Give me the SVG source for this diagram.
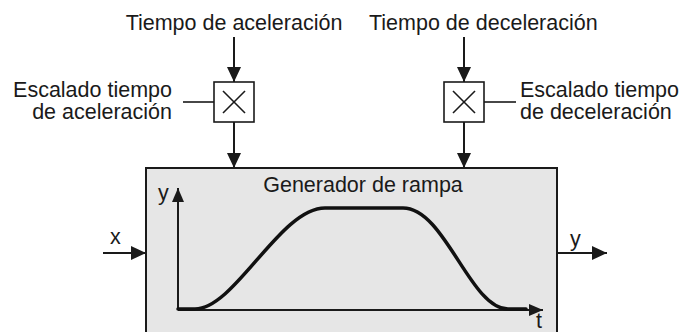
<svg xmlns="http://www.w3.org/2000/svg" width="692" height="332" viewBox="0 0 692 332">
  <style>
    text { font-family: "Liberation Sans", Arial, sans-serif; font-size: 21.5px; fill: #1a1a1a; }
    .ln { stroke: #1a1a1a; stroke-width: 2; fill: none; }
    .thin { stroke: #1a1a1a; stroke-width: 1.6; fill: none; }
    .box { stroke: #1a1a1a; stroke-width: 1.6; fill: #ffffff; }
    .curve { stroke: #111; stroke-width: 3.5; fill: none; stroke-linecap: round; stroke-linejoin: round; }
  </style>
  <defs>
    <marker id="ah" markerUnits="userSpaceOnUse" markerWidth="15" markerHeight="14" refX="15" refY="7" orient="auto">
      <path d="M0,0 L15,7 L0,14 z" fill="#1a1a1a"/>
    </marker>
    <marker id="ax" markerUnits="userSpaceOnUse" markerWidth="14" markerHeight="12" refX="14" refY="6" orient="auto">
      <path d="M0,0 L14,6 L0,12 z" fill="#1a1a1a"/>
    </marker>
  </defs>

  <g id="generador">
    <rect x="146" y="168" width="411" height="180" fill="#e6e6e6" stroke="#1a1a1a" stroke-width="2"/>
    <text x="363" y="192" text-anchor="middle">Generador de rampa</text>
    <line class="ln" x1="178" y1="310" x2="178" y2="188" marker-end="url(#ax)"/>
    <line class="ln" x1="178" y1="310" x2="543" y2="310" marker-end="url(#ax)"/>
    <text x="158" y="200">y</text>
    <text x="536" y="328">t</text>
    <path class="curve" d="M178 309 L195 309 C235 309 280 208 325 208 L403 208 C445 208 470 309 508 309 L526 309"/>
  </g>

  <g id="mult-acel">
    <rect class="box" x="214" y="82" width="40" height="40"/>
    <line class="thin" x1="223" y1="91" x2="245" y2="113"/>
    <line class="thin" x1="245" y1="91" x2="223" y2="113"/>
  </g>

  <g id="mult-decel">
    <rect class="box" x="444" y="82" width="40" height="40"/>
    <line class="thin" x1="453" y1="91" x2="475" y2="113"/>
    <line class="thin" x1="475" y1="91" x2="453" y2="113"/>
  </g>

  <g id="labels">
    <text x="234" y="30" text-anchor="middle">Tiempo de aceleración</text>
    <text x="369" y="30">Tiempo de deceleración</text>
    <text x="172" y="97" text-anchor="end">Escalado tiempo</text>
    <text x="172" y="119" text-anchor="end">de aceleración</text>
    <text x="520" y="97">Escalado tiempo</text>
    <text x="520" y="119">de deceleración</text>
    <text x="110" y="244">x</text>
    <text x="570" y="246">y</text>
  </g>

  <g id="connectors">
    <line class="ln" x1="234" y1="37" x2="234" y2="82" marker-end="url(#ah)"/>
    <line class="ln" x1="234" y1="122" x2="234" y2="168" marker-end="url(#ah)"/>
    <line class="ln" x1="464" y1="37" x2="464" y2="82" marker-end="url(#ah)"/>
    <line class="ln" x1="464" y1="122" x2="464" y2="168" marker-end="url(#ah)"/>
    <line class="thin" x1="183" y1="102" x2="214" y2="102"/>
    <line class="thin" x1="484" y1="102" x2="516" y2="102"/>
    <line class="ln" x1="103" y1="253" x2="146" y2="253" marker-end="url(#ah)"/>
    <line class="ln" x1="557" y1="253" x2="607" y2="253" marker-end="url(#ah)"/>
  </g>
</svg>
